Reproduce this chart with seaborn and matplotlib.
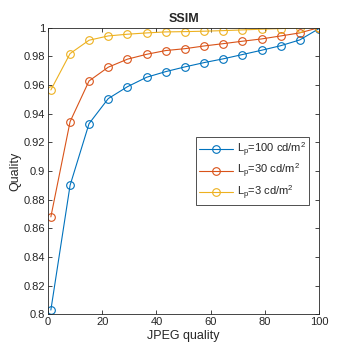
import numpy as np
import pandas as pd
import matplotlib
matplotlib.use('Agg')
import matplotlib.pyplot as plt
import seaborn as sns

# JPEG quality levels and SSIM values
jpeg_q = [1, 8.1, 15.1, 22.2, 29.3, 36.4, 43.4, 50.5, 57.6, 64.6, 71.7, 78.8, 85.9, 92.9, 100]
ssim_100 = [0.803, 0.890, 0.933, 0.9505, 0.9588, 0.9654, 0.9693, 0.9726, 0.9756,
            0.9782, 0.9812, 0.9842, 0.9874, 0.9914, 0.9993]
ssim_30 = [0.868, 0.9344, 0.9628, 0.9724, 0.978, 0.9814, 0.984, 0.9853, 0.9872,
           0.9888, 0.9905, 0.9921, 0.9942, 0.9963, 1.0]
ssim_3 = [0.9565, 0.9819, 0.9912, 0.9942, 0.9954, 0.9963, 0.997, 0.9972, 0.9975,
          0.9979, 0.9984, 0.9989, 0.9993, 0.9999, 1.0]
labels = [r'L$_\mathrm{p}$=100 cd/m$^2$', r'L$_\mathrm{p}$=30 cd/m$^2$', r'L$_\mathrm{p}$=3 cd/m$^2$']
colors = ['#0072BD', '#D95319', '#EDB120']

sns.set_style('ticks')
plt.rcParams['font.family'] = ['Liberation Sans', 'DejaVu Sans']
plt.rcParams['mathtext.fontset'] = 'custom'
plt.rcParams['mathtext.rm'] = 'Liberation Sans'
plt.rcParams['mathtext.it'] = 'Liberation Sans:italic'

fig = plt.figure(figsize=(3.54, 3.54), dpi=100)
ax = fig.add_axes([0.136, 0.112, 0.765, 0.81])

for vals, lab, c in zip([ssim_100, ssim_30, ssim_3], labels, colors):
    df = pd.DataFrame({'q': jpeg_q, 'v': vals})
    sns.lineplot(data=df, x='q', y='v', ax=ax, color=c, label=lab, marker='o',
                 markersize=5.5, markerfacecolor='none', markeredgecolor=c,
                 markeredgewidth=0.8, linewidth=0.8)

ax.set_xlim(0, 100)
ax.set_ylim(0.8, 1.0)
ax.set_xticks(np.arange(0, 101, 20))
yt = np.round(np.arange(0.8, 1.0001, 0.02), 2)
ax.set_yticks(yt)
ax.set_yticklabels(['%g' % v for v in yt])
ax.tick_params(direction='in', length=3, width=0.6, labelsize=8, colors='#262626',
               top=True, right=True, pad=2)
for s in ax.spines.values():
    s.set_linewidth(0.6)
    s.set_color('#262626')
ax.set_xlabel('JPEG quality', fontsize=9, color='#262626', labelpad=2)
ax.set_ylabel('Quality', fontsize=9, color='#262626', labelpad=2)
ax.set_title('SSIM', fontsize=9, fontweight='bold', pad=4)

leg = ax.legend(loc='upper left', bbox_to_anchor=(0.546, 0.618), fontsize=8,
                frameon=True, fancybox=False, handlelength=3.0, borderpad=0.3,
                labelspacing=0.3, handletextpad=0.35, borderaxespad=0)
leg.get_frame().set_edgecolor('black')
leg.get_frame().set_linewidth(0.6)

fig.savefig('out.png', dpi=100)
